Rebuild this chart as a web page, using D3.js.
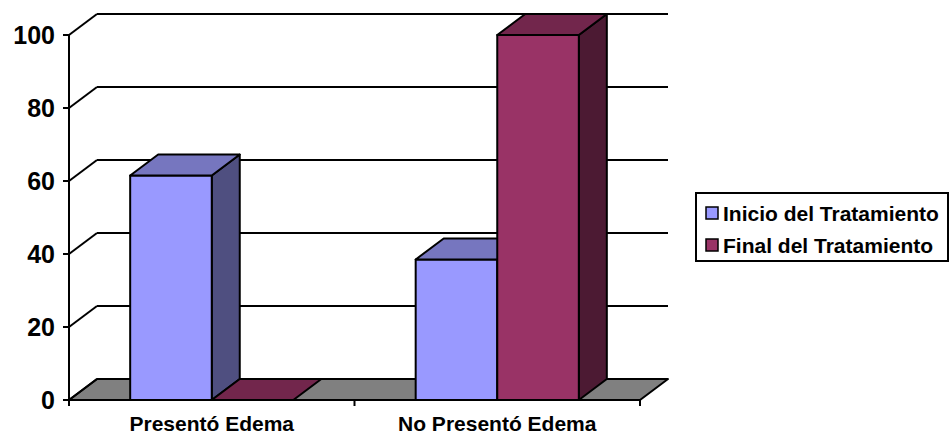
<!DOCTYPE html>
<html>
<head>
<meta charset="utf-8">
<script src="https://cdn.jsdelivr.net/npm/d3@7"></script>
<style>
  html, body { margin: 0; padding: 0; background: #fff; }
  svg { display: block; font-family: "Liberation Sans", Arial, sans-serif; font-weight: bold; }
</style>
</head>
<body>
<svg id="chart" width="950" height="434"></svg>
<script>
// Edema presence at start and end of treatment (%)
const categories = ["Presentó Edema", "No Presentó Edema"];
const seriesNames = ["Inicio del Tratamiento", "Final del Tratamiento"];
const inicio = [61.5, 38.5];
const final = [0, 100];
const yTicks = [0, 20, 40, 60, 80, 100];

const seriesValues = [inicio, final];
const faceColors = [
  { front: "#9999FF", top: "#7676BF", side: "#4F4F80" },
  { front: "#993366", top: "#72264C", side: "#4C1A33" }
];

(function draw() {
  const svg = d3.select("#chart");

  // plot geometry: front plane, plus the 3-D depth offset of the back wall
  const plotLeft = 69, plotRight = 640, plotBottom = 400, plotTop = 35;
  const dx = 28, dy = -21;

  const y = d3.scaleLinear().domain([0, 100]).range([plotBottom, plotTop]);
  const x = d3.scaleBand().domain(categories).range([plotLeft, plotRight]).padding(0);
  const xs = d3.scaleBand().domain(seriesNames).range([0, x.bandwidth()])
    .paddingInner(0).paddingOuter(0.75);

  const poly = (pts) => "M" + pts.map(p => p.join(",")).join("L") + "Z";

  // floor
  svg.append("path")
    .attr("d", poly([[plotLeft, y(0)], [plotRight, y(0)], [plotRight + dx, y(0) + dy], [plotLeft + dx, y(0) + dy]]))
    .attr("fill", "#808080").attr("stroke", "#000").attr("stroke-width", 2)
    .attr("stroke-linejoin", "round");

  // back-wall gridlines and left-wall diagonals
  const grid = svg.append("g").attr("fill", "none").attr("stroke", "#000").attr("stroke-width", 2);
  yTicks.forEach(t => {
    if (t > 0) {
      grid.append("line")
        .attr("x1", plotLeft + dx).attr("x2", plotRight + dx)
        .attr("y1", y(t) + dy).attr("y2", y(t) + dy);
    }
    grid.append("line")
      .attr("x1", plotLeft).attr("x2", plotLeft + dx)
      .attr("y1", y(t)).attr("y2", y(t) + dy);
  });

  // bars as 3-D boxes (front, top, side faces)
  const bars = svg.append("g").attr("stroke", "#000").attr("stroke-width", 2)
    .attr("stroke-linejoin", "round");
  categories.forEach((cat, ci) => {
    seriesNames.forEach((s, si) => {
      const v = seriesValues[si][ci];
      const x0 = x(cat) + xs(s), x1 = x0 + xs.bandwidth();
      const yv = y(v), y0 = y(0);
      const c = faceColors[si];
      if (v > 0) {
        bars.append("path").attr("fill", c.side)
          .attr("d", poly([[x1, yv], [x1 + dx, yv + dy], [x1 + dx, y0 + dy], [x1, y0]]));
        bars.append("path").attr("fill", c.front)
          .attr("d", poly([[x0, yv], [x1, yv], [x1, y0], [x0, y0]]));
      }
      bars.append("path").attr("fill", c.top)
        .attr("d", poly([[x0, yv], [x1, yv], [x1 + dx, yv + dy], [x0 + dx, yv + dy]]));
    });
  });

  // value axis
  const yAxis = svg.append("g").attr("stroke", "#000").attr("stroke-width", 2);
  yAxis.append("line").attr("x1", plotLeft).attr("x2", plotLeft).attr("y1", y(100)).attr("y2", y(0) + 1);
  yTicks.forEach(t => {
    yAxis.append("line").attr("x1", plotLeft - 6).attr("x2", plotLeft).attr("y1", y(t)).attr("y2", y(t));
  });
  svg.append("g").selectAll("text").data(yTicks).join("text")
    .attr("x", 55).attr("y", d => y(d)).attr("dy", "0.36em")
    .attr("text-anchor", "end").attr("font-size", 25).attr("fill", "#000")
    .text(d => d);

  // category axis
  const xAxis = svg.append("g").attr("stroke", "#000").attr("stroke-width", 2);
  xAxis.append("line").attr("x1", plotLeft - 1).attr("x2", plotRight).attr("y1", y(0)).attr("y2", y(0));
  [plotLeft, ...categories.slice(1).map(c => x(c)), plotRight].forEach(px => {
    xAxis.append("line").attr("x1", px).attr("x2", px).attr("y1", y(0)).attr("y2", y(0) + 6);
  });
  svg.append("g").selectAll("text").data(categories).join("text")
    .attr("x", d => x(d) + x.bandwidth() / 2).attr("y", 431)
    .attr("text-anchor", "middle").attr("font-size", 21).attr("fill", "#000")
    .text(d => d);

  // legend
  const lg = svg.append("g");
  lg.append("rect").attr("x", 696).attr("y", 193).attr("width", 252).attr("height", 68)
    .attr("fill", "#fff").attr("stroke", "#000").attr("stroke-width", 2);
  seriesNames.forEach((s, i) => {
    const cy = 213 + i * 32;
    lg.append("rect").attr("x", 706).attr("y", cy - 6).attr("width", 12).attr("height", 12)
      .attr("fill", faceColors[i].front).attr("stroke", "#000").attr("stroke-width", 1.5);
    lg.append("text").attr("x", 723).attr("y", cy).attr("dy", "0.36em")
      .attr("font-size", 21).attr("fill", "#000").text(s);
  });
})();
</script>
</body>
</html>
